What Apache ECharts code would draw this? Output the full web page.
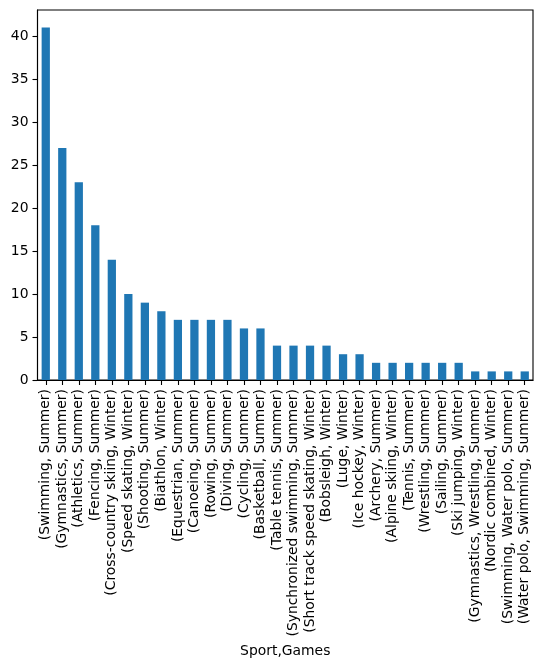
<!DOCTYPE html>
<html>
<head>
<meta charset="utf-8">
<script src="https://cdn.jsdelivr.net/npm/echarts@6/dist/echarts.min.js"></script>
<style>html,body{margin:0;padding:0;background:#fff;}#c{width:543px;height:666px;}</style>
</head>
<body>
<div id="c"></div>
<script>
const categories = [
  '(Swimming, Summer)', '(Gymnastics, Summer)', '(Athletics, Summer)', '(Fencing, Summer)',
  '(Cross-country skiing, Winter)', '(Speed skating, Winter)', '(Shooting, Summer)', '(Biathlon, Winter)',
  '(Equestrian, Summer)', '(Canoeing, Summer)', '(Rowing, Summer)', '(Diving, Summer)',
  '(Cycling, Summer)', '(Basketball, Summer)', '(Table tennis, Summer)', '(Synchronized swimming, Summer)',
  '(Short track speed skating, Winter)', '(Bobsleigh, Winter)', '(Luge, Winter)', '(Ice hockey, Winter)',
  '(Archery, Summer)', '(Alpine skiing, Winter)', '(Tennis, Summer)', '(Wrestling, Summer)',
  '(Sailing, Summer)', '(Ski jumping, Winter)', '(Gymnastics, Wrestling, Summer)', '(Nordic combined, Winter)',
  '(Swimming, Water polo, Summer)', '(Water polo, Swimming, Summer)'
];
const values = [41, 27, 23, 18, 14, 10, 9, 8, 7, 7, 7, 7, 6, 6, 4, 4, 4, 4, 3, 3, 2, 2, 2, 2, 2, 2, 1, 1, 1, 1];
const yTicks = [0, 5, 10, 15, 20, 25, 30, 35, 40];
const xAxisTitle = 'Sport,Games';

const font = 'DejaVu Sans';
const chart = echarts.init(document.getElementById('c'), null, {renderer: 'canvas'});
chart.setOption({
  animation: false,
  textStyle: {fontFamily: font},
  grid: {left: 37.5, right: 10, top: 10, bottom: 286, show: true, borderColor: '#000', borderWidth: 1.1, backgroundColor: 'transparent'},
  xAxis: {
    type: 'category',
    data: categories,
    name: xAxisTitle,
    nameLocation: 'middle',
    nameGap: 258,
    nameTextStyle: {fontFamily: font, fontSize: 13.9, color: '#000'},
    axisLine: {show: true, lineStyle: {color: '#000', width: 1.1}},
    axisTick: {show: true, alignWithLabel: true, interval: 0, length: 5, lineStyle: {color: '#000', width: 1.1}},
    axisLabel: {interval: 0, rotate: 90, margin: 9, fontFamily: font, fontSize: 13.9, color: '#000'},
    splitLine: {show: false}
  },
  yAxis: {
    type: 'value',
    min: 0,
    max: Math.max(...values) * 1.05,
    axisLine: {show: true, lineStyle: {color: '#000', width: 1.1}},
    axisTick: {show: true, length: 5, customValues: yTicks, lineStyle: {color: '#000', width: 1.1}},
    axisLabel: {customValues: yTicks, margin: 9, fontFamily: font, fontSize: 13.9, color: '#000'},
    splitLine: {show: false}
  },
  series: [{
    type: 'bar',
    data: values,
    barWidth: '50%',
    itemStyle: {color: '#1f77b4'}
  }]
});
</script>
</body>
</html>
